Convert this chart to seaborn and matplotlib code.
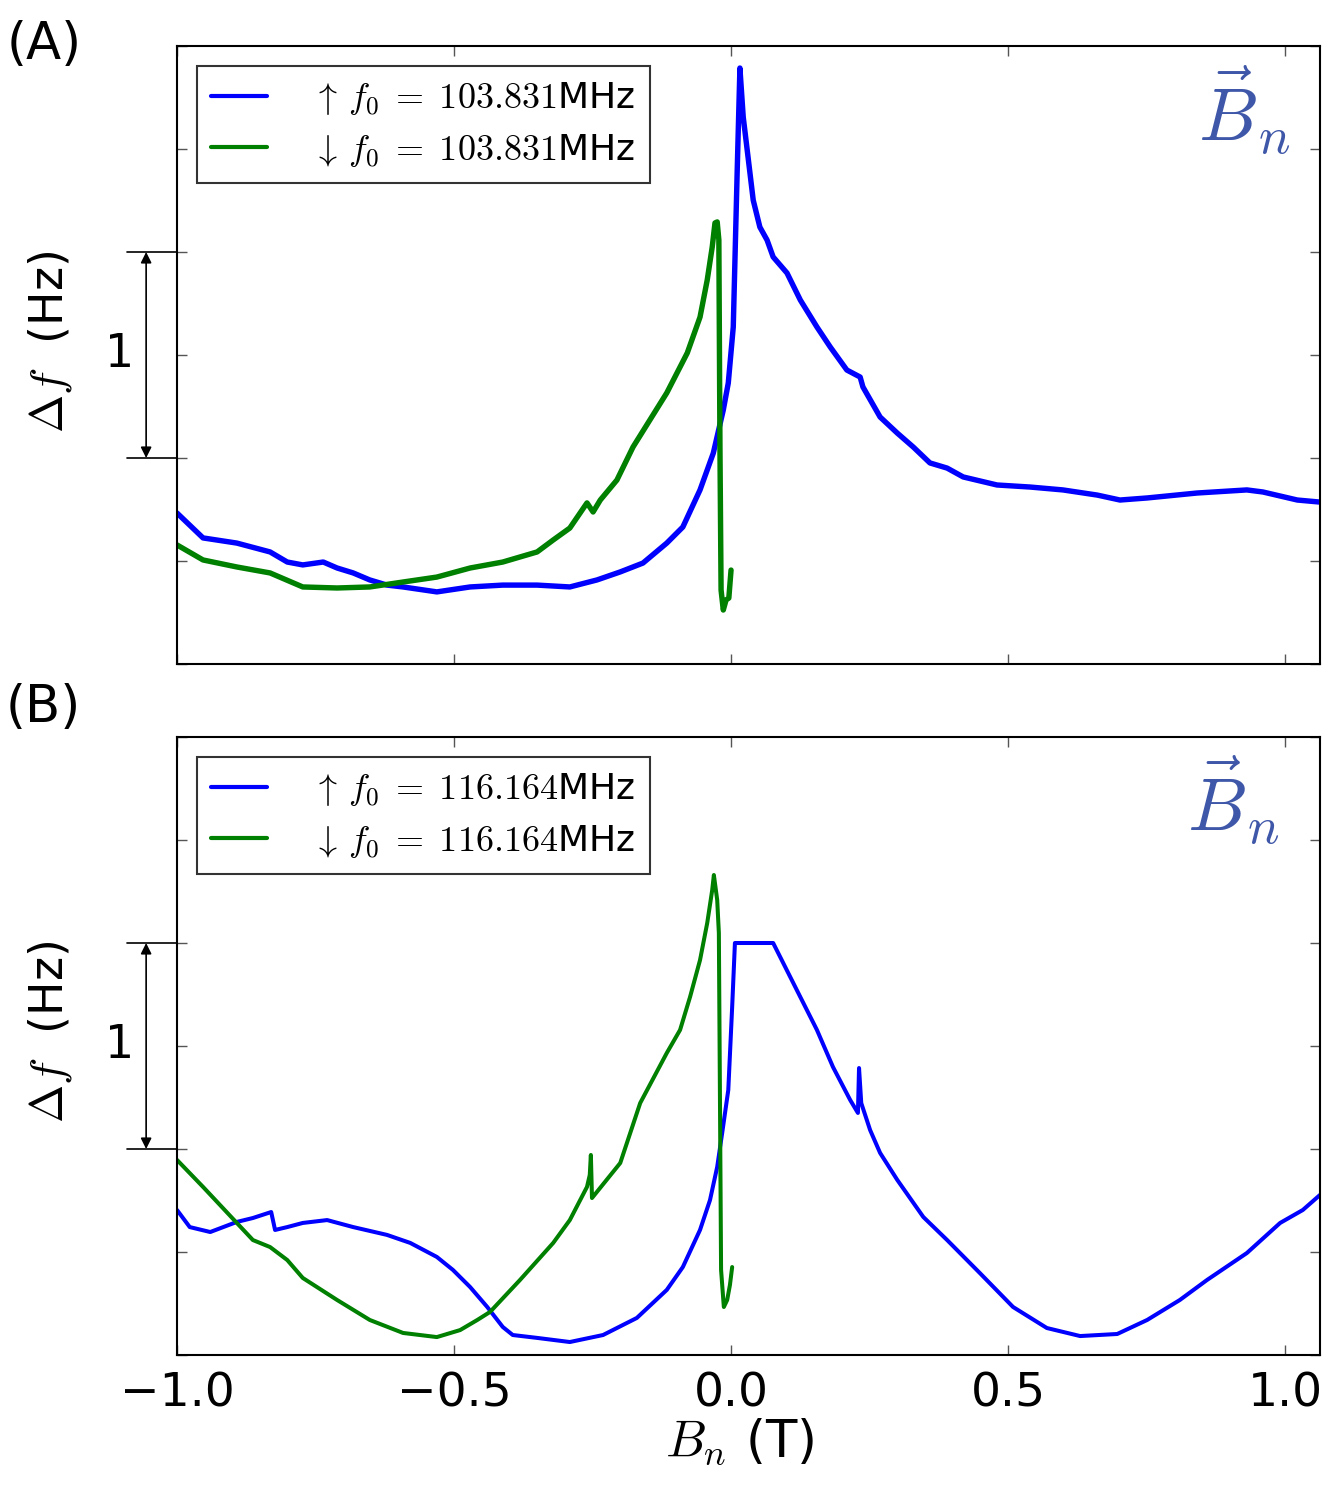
import numpy as np
import pandas as pd
import matplotlib
matplotlib.use("Agg")
import matplotlib.pyplot as plt
import matplotlib.transforms as mtransforms
import seaborn as sns

# ---------------- data (B_n in T, delta f in Hz) ----------------
a_up_x = [-1.000, -0.953, -0.892, -0.832, -0.801, -0.773, -0.736, -0.711, -0.682, -0.652,
          -0.621, -0.592, -0.531, -0.471, -0.412, -0.350, -0.291, -0.242, -0.200, -0.159,
          -0.116, -0.087, -0.056, -0.032, -0.014, -0.005, 0.004, 0.011, 0.016, 0.022,
          0.040, 0.052, 0.065, 0.076, 0.101, 0.125, 0.155, 0.179, 0.209, 0.233,
          0.238, 0.269, 0.300, 0.329, 0.359, 0.390, 0.419, 0.480, 0.540, 0.599,
          0.661, 0.702, 0.751, 0.841, 0.931, 0.960, 1.022, 1.063]
a_up_y = [0.733, 0.612, 0.587, 0.544, 0.495, 0.481, 0.495, 0.466, 0.442, 0.408,
          0.383, 0.374, 0.350, 0.374, 0.383, 0.383, 0.374, 0.408, 0.447, 0.490,
          0.587, 0.665, 0.845, 1.024, 1.233, 1.364, 1.636, 2.383, 2.893, 2.655,
          2.252, 2.121, 2.058, 1.976, 1.898, 1.767, 1.636, 1.539, 1.427, 1.393,
          1.345, 1.199, 1.121, 1.053, 0.976, 0.951, 0.908, 0.869, 0.859, 0.845,
          0.820, 0.796, 0.806, 0.830, 0.845, 0.835, 0.796, 0.786]

a_down_x = [-1.000, -0.953, -0.892, -0.832, -0.773, -0.711, -0.652, -0.592, -0.531, -0.471,
            -0.412, -0.350, -0.321, -0.291, -0.260, -0.249, -0.236, -0.206, -0.177, -0.116,
            -0.079, -0.056, -0.043, -0.034, -0.029, -0.025, -0.022, -0.020, -0.018, -0.014,
            -0.009, -0.004, 0.000]
a_down_y = [0.578, 0.505, 0.471, 0.442, 0.374, 0.369, 0.374, 0.398, 0.422, 0.466,
            0.495, 0.544, 0.602, 0.660, 0.782, 0.738, 0.796, 0.893, 1.053, 1.316,
            1.510, 1.684, 1.864, 2.024, 2.141, 2.146, 2.058, 1.039, 0.359, 0.262,
            0.311, 0.320, 0.456]

b_up_x = [-1.000, -0.977, -0.940, -0.892, -0.863, -0.830, -0.823, -0.801, -0.773, -0.729,
          -0.682, -0.621, -0.579, -0.531, -0.502, -0.471, -0.440, -0.412, -0.394, -0.350,
          -0.291, -0.231, -0.170, -0.116, -0.087, -0.056, -0.038, -0.025, -0.016, -0.005,
          0.002, 0.007, 0.076, 0.125, 0.155, 0.184, 0.215, 0.229, 0.231, 0.235,
          0.251, 0.269, 0.300, 0.347, 0.390, 0.449, 0.509, 0.570, 0.630, 0.697,
          0.751, 0.810, 0.859, 0.931, 0.991, 1.032, 1.063]
b_up_y = [0.704, 0.621, 0.597, 0.646, 0.665, 0.694, 0.607, 0.621, 0.641, 0.655,
          0.621, 0.583, 0.544, 0.476, 0.413, 0.330, 0.233, 0.136, 0.097, 0.083,
          0.063, 0.097, 0.180, 0.316, 0.427, 0.607, 0.752, 0.913, 1.078, 1.286,
          1.689, 2.000, 2.000, 1.738, 1.578, 1.398, 1.238, 1.175, 1.393, 1.223,
          1.092, 0.981, 0.850, 0.670, 0.558, 0.398, 0.233, 0.131, 0.092, 0.102,
          0.170, 0.267, 0.364, 0.495, 0.641, 0.704, 0.777]

b_down_x = [-1.000, -0.953, -0.892, -0.863, -0.832, -0.801, -0.773, -0.711, -0.652, -0.592,
            -0.531, -0.489, -0.458, -0.435, -0.381, -0.321, -0.291, -0.260, -0.255, -0.253,
            -0.251, -0.200, -0.164, -0.116, -0.092, -0.074, -0.056, -0.043, -0.034, -0.031,
            -0.025, -0.022, -0.020, -0.018, -0.013, -0.007, -0.002, 0.002]
b_down_y = [0.947, 0.816, 0.641, 0.558, 0.524, 0.461, 0.374, 0.267, 0.170, 0.107,
            0.087, 0.121, 0.170, 0.209, 0.364, 0.544, 0.655, 0.816, 0.874, 0.971,
            0.762, 0.932, 1.223, 1.466, 1.578, 1.738, 1.917, 2.097, 2.257, 2.330,
            2.209, 2.049, 1.238, 0.413, 0.233, 0.267, 0.340, 0.427]

panel_labels = ["(A)", "(B)"]
f0_values = ["103.831", "116.164"]
x_ticks = [-1.0, -0.5, 0.0, 0.5, 1.0]
y_ticks = [0.0, 0.5, 1.0, 1.5, 2.0, 2.5, 3.0]
scale_bar = (1.0, 2.0)
scale_text = "1"

# ---------------- style ----------------
sns.set_theme(style="ticks")
plt.rcParams["font.family"] = ["DejaVu Sans"]
plt.rcParams["mathtext.fontset"] = "cm"
plt.rcParams["axes.unicode_minus"] = True
plt.rcParams["text.color"] = "black"
plt.rcParams["axes.labelcolor"] = "black"
plt.rcParams["xtick.labelcolor"] = "black"
plt.rcParams["ytick.labelcolor"] = "black"

W, H = 1333, 1485
fig = plt.figure(figsize=(W / 100, H / 100), dpi=100)

def fx(px):
    return px / W

def fy(py):
    return 1 - py / H

axA = fig.add_axes([fx(177), fy(664), (1320 - 177) / W, (664 - 46) / H])
axB = fig.add_axes([fx(177), fy(1355), (1320 - 177) / W, (1355 - 737) / H])

panels = [
    (axA, a_up_x, a_up_y, a_down_x, a_down_y, 3.9),
    (axB, b_up_x, b_up_y, b_down_x, b_down_y, 2.9),
]

bn_pos = [(0.934, 0.896), (0.924, 0.898)]

for i, (ax, ux, uy, dx, dy, lw) in enumerate(panels):
    up = pd.DataFrame({"B": ux, "df": uy})
    dn = pd.DataFrame({"B": dx, "df": dy})
    sns.lineplot(data=up, x="B", y="df", ax=ax, sort=False, estimator=None,
                 color="#0000ff", lw=lw,
                 label=r"$\uparrow\, f_0 \;=\; " + f0_values[i] + r"$MHz")
    sns.lineplot(data=dn, x="B", y="df", ax=ax, sort=False, estimator=None,
                 color="#008000", lw=lw,
                 label=r"$\downarrow\, f_0 \;=\; " + f0_values[i] + r"$MHz")
    ax.set_xlim(-1.0, 1.063)
    ax.set_ylim(0, 3.0)
    ax.set_xticks(x_ticks)
    ax.set_yticks(y_ticks)
    ax.set_yticklabels([])
    ax.set_xlabel("")
    ax.set_ylabel("")
    ax.tick_params(direction="in", length=7, width=1, color="#555555",
                   top=True, right=True, labelsize=34, pad=12, labelcolor="black")
    for s in ax.spines.values():
        s.set_linewidth(1.5)
        s.set_color("black")
    if i == 0:
        ax.set_xticklabels([])
    else:
        ax.set_xticklabels([f"{v:.1f}".replace("-", "\u2212") for v in x_ticks])

    leg = ax.legend(loc="upper left", fontsize=26, frameon=True, fancybox=False,
                    handlelength=1.55, handletextpad=1.25, borderpad=0.4,
                    labelspacing=0.4, borderaxespad=0.55)
    leg.get_frame().set_edgecolor("black")
    leg.get_frame().set_linewidth(1.5)
    for h in leg.get_lines():
        h.set_linewidth(3)
    for t in leg.get_texts():
        t.set_color("black")

    ax.text(bn_pos[i][0], bn_pos[i][1], r"$\vec{B}_n$", transform=ax.transAxes,
            fontsize=54, color="#3F57A8", ha="center", va="center")

    # scale bar outside the axes
    trans = mtransforms.blended_transform_factory(ax.transAxes, ax.transData)
    for yv in scale_bar:
        ax.plot([-0.044, 0.0], [yv, yv], transform=trans, color="black",
                lw=1.2, clip_on=False)
    ax.annotate("", xy=(-0.027, scale_bar[1]), xytext=(-0.027, scale_bar[0]),
                xycoords=trans, textcoords=trans,
                arrowprops=dict(arrowstyle="<|-|>", color="black", lw=1.2,
                                mutation_scale=16, shrinkA=0, shrinkB=0))
    ax.text(-0.05, sum(scale_bar) / 2, scale_text, transform=trans, fontsize=33,
            ha="center", va="center", color="black")

# y labels
fig.text(fx(50), fy(342), r"$\Delta f$  (Hz)", rotation=90, fontsize=33,
         ha="center", va="center", color="black")
fig.text(fx(50), fy(1032), r"$\Delta f$  (Hz)", rotation=90, fontsize=33,
         ha="center", va="center", color="black")

# panel labels
fig.text(fx(44), fy(45), panel_labels[0], fontsize=37, ha="center", va="center", color="black")
fig.text(fx(43), fy(708), panel_labels[1], fontsize=37, ha="center", va="center", color="black")

# x label
fig.text(fx(740), fy(1443), r"$B_n$ (T)", fontsize=37, ha="center", va="center", color="black")

fig.savefig("out.png", dpi=100)
